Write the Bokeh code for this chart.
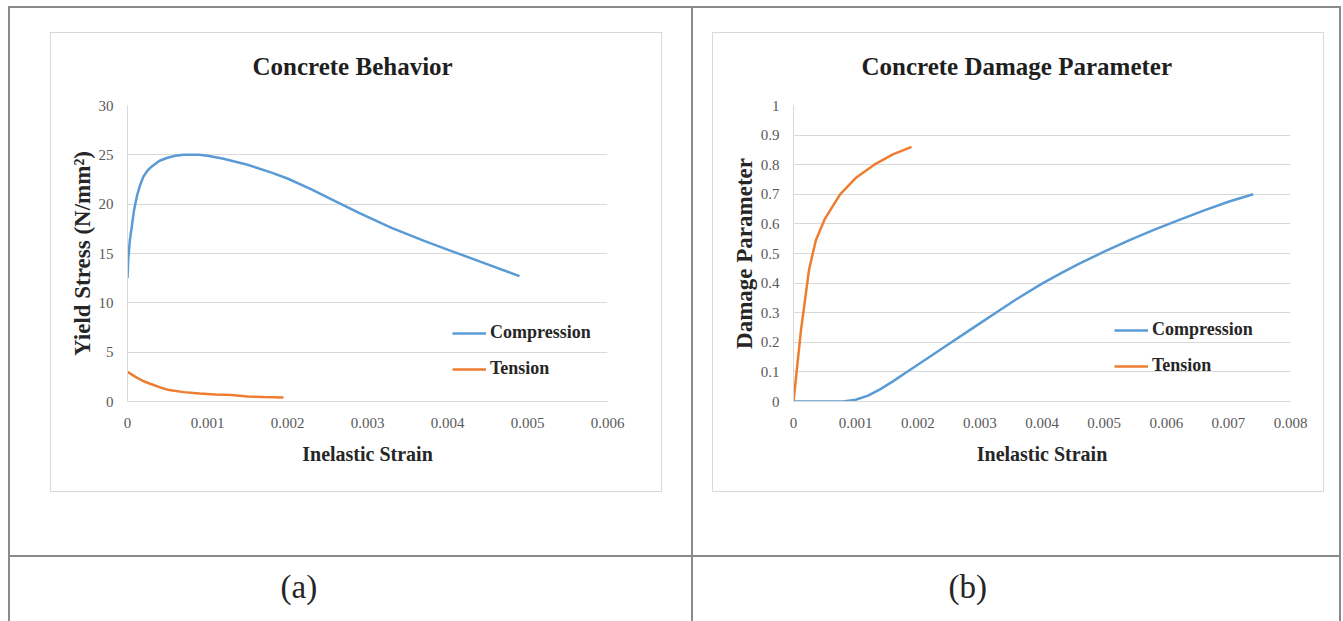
from bokeh.plotting import figure
from bokeh.layouts import row, column
from bokeh.models import Range1d, FixedTicker, Legend, LegendItem, Title
from bokeh.embed import file_html
from bokeh.resources import INLINE

# ---------------- data ----------------
comp_strain_a = [0, 0.00001, 0.00003, 0.00005, 0.00008, 0.00012, 0.00016, 0.0002, 0.00025, 0.0003,
                 0.0004, 0.0005, 0.0006, 0.0007, 0.0008, 0.0009, 0.001, 0.0012, 0.0015, 0.0018,
                 0.002, 0.0023, 0.0025, 0.0029, 0.0033, 0.0037, 0.004, 0.0044, 0.0049]
comp_stress_a = [12.5, 14.5, 16.4, 17.5, 19.3, 20.9, 22.0, 22.8, 23.4, 23.8,
                 24.4, 24.7, 24.9, 25.0, 25.0, 25.0, 24.9, 24.6, 24.0, 23.2,
                 22.6, 21.5, 20.7, 19.1, 17.6, 16.3, 15.4, 14.2, 12.7]
tens_strain_a = [0, 0.0001, 0.0002, 0.0003, 0.0004, 0.0005, 0.0007, 0.0009, 0.0011, 0.0013,
                 0.0015, 0.0017, 0.00195]
tens_stress_a = [3.0, 2.5, 2.05, 1.75, 1.45, 1.2, 0.95, 0.8, 0.72, 0.65, 0.5, 0.45, 0.4]

comp_strain_b = [0, 0.0004, 0.0008, 0.001, 0.0012, 0.0014, 0.0016, 0.0018, 0.002, 0.0022,
                 0.0025, 0.0028, 0.003, 0.0033, 0.0036, 0.004, 0.0043, 0.0046, 0.005, 0.0054,
                 0.0058, 0.0062, 0.0066, 0.007, 0.0074]
comp_damage_b = [0, 0, 0, 0.006, 0.02, 0.042, 0.068, 0.096, 0.124, 0.152,
                 0.194, 0.236, 0.264, 0.306, 0.347, 0.398, 0.433, 0.466, 0.506, 0.544,
                 0.58, 0.613, 0.645, 0.675, 0.70]
tens_strain_b = [0, 0.00012, 0.00025, 0.00036, 0.0005, 0.00075, 0.001, 0.0013, 0.0016, 0.0019]
tens_damage_b = [0, 0.24, 0.445, 0.545, 0.615, 0.70, 0.755, 0.80, 0.835, 0.86]

xa_ticks = [0, 0.001, 0.002, 0.003, 0.004, 0.005, 0.006]
xa_labels = ["0", "0.001", "0.002", "0.003", "0.004", "0.005", "0.006"]
ya_ticks = [0, 5, 10, 15, 20, 25, 30]
ya_labels = ["0", "5", "10", "15", "20", "25", "30"]
xb_ticks = [0, 0.001, 0.002, 0.003, 0.004, 0.005, 0.006, 0.007, 0.008]
xb_labels = ["0", "0.001", "0.002", "0.003", "0.004", "0.005", "0.006", "0.007", "0.008"]
yb_ticks = [0, 0.1, 0.2, 0.3, 0.4, 0.5, 0.6, 0.7, 0.8, 0.9, 1]
yb_labels = ["0", "0.1", "0.2", "0.3", "0.4", "0.5", "0.6", "0.7", "0.8", "0.9", "1"]

title_a = "Concrete  Behavior"
title_b = "Concrete  Damage Parameter"
xlabel = "Inelastic Strain"
ylabel_a = "Yield Stress (N/mm\u00b2)"
ylabel_b = "Damage Parameter"
series_names = ["Compression", "Tension"]
captions = ["(a)", "(b)"]

# ---------------- style ----------------
SERIF = "Liberation Serif"
BLUE = "#5b9bd5"
ORANGE = "#ed7d31"
GRID = "#d9d9d9"
BORDER = "#8a8a8a"
H_TOP = 555
H_CAP = 66


def rects_css(rects):
    parts = []
    for (x, y, w, h, c) in rects:
        parts.append(f"linear-gradient({c},{c}) {x}px {y}px / {w}px {h}px no-repeat")
    return ", ".join(parts)


def make_chart(width, ml, mr, xr, yr, xt, xl, yt, yl, xs_c, ys_c, xs_t, ys_t, ylabel,
               legend_xy, css_rects, title, title_off):
    p = figure(width=width, height=H_TOP, output_backend="svg", toolbar_location=None,
               x_range=Range1d(*xr), y_range=Range1d(*yr),
               min_border_left=ml, min_border_right=mr, min_border_top=105,
               min_border_bottom=H_TOP - 401,
               styles={"background": rects_css(css_rects)})
    p.border_fill_color = None
    p.outline_line_color = None
    p.xgrid.grid_line_color = None
    p.ygrid.grid_line_color = GRID
    p.ygrid.ticker = FixedTicker(ticks=yt)
    for ax, ticks, labels in ((p.xaxis[0], xt, xl), (p.yaxis[0], yt, yl)):
        ax.ticker = FixedTicker(ticks=ticks)
        ax.major_label_overrides = dict(zip(ticks, labels))
        ax.major_tick_line_color = None
        ax.minor_tick_line_color = None
        ax.axis_line_color = GRID
        ax.major_label_text_font = SERIF
        ax.major_label_text_font_size = "15px"
        ax.major_label_text_color = "#595959"
        ax.axis_label_text_font = SERIF
        ax.axis_label_text_font_style = "bold"
        ax.axis_label_text_color = "#262626"
    p.xaxis.major_label_standoff = 10
    p.xaxis.axis_label = xlabel
    p.xaxis.axis_label_text_font_size = "20px"
    p.xaxis.axis_label_standoff = 12
    p.yaxis.major_label_standoff = 8
    p.yaxis.axis_label = ylabel
    p.yaxis.axis_label_text_font_size = "23px"
    p.yaxis.axis_label_standoff = 1

    r1 = p.line(xs_c, ys_c, line_color=BLUE, line_width=2.5)
    r2 = p.line(xs_t, ys_t, line_color=ORANGE, line_width=2.5)
    legend = Legend(items=[LegendItem(label=series_names[0], renderers=[r1]),
                           LegendItem(label=series_names[1], renderers=[r2])],
                    location=legend_xy, padding=0, margin=0, spacing=15,
                    glyph_width=34, glyph_height=20, label_height=20, label_standoff=4,
                    border_line_color=None, background_fill_alpha=0.0,
                    label_text_font=SERIF, label_text_font_style="bold",
                    label_text_font_size="18px", label_text_color="#262626")
    p.add_layout(legend)

    p.add_layout(Title(text=title, align="left", offset=title_off, standoff=52,
                       text_font=SERIF, text_font_style="bold",
                       text_font_size="25px", text_color="#1f1f1f"), "above")
    return p


def make_caption(width, text, off, css_rects):
    c = figure(width=width, height=H_CAP, output_backend="svg", toolbar_location=None,
               x_axis_location=None, y_axis_location=None, min_border=0,
               styles={"background": rects_css(css_rects)})
    c.border_fill_color = None
    c.background_fill_color = None
    c.outline_line_color = None
    c.grid.grid_line_color = None
    c.add_layout(Title(text=text, align="left", offset=off, standoff=22,
                       text_font=SERIF, text_font_style="normal",
                       text_font_size="33px", text_color="#262626"), "above")
    return c


WA, WB = 691, 652
box_a = [(50, 32, 611, 1, GRID), (50, 491, 611, 1, GRID), (50, 32, 1, 460, GRID), (661, 32, 1, 460, GRID)]
lines_a = [(8, 6, 683, 2, BORDER), (8, 6, 2, 549, BORDER)]
box_b = [(21, 32, 611, 1, GRID), (21, 491, 611, 1, GRID), (21, 32, 1, 460, GRID), (632, 32, 1, 460, GRID)]
lines_b = [(0, 6, 650, 2, BORDER), (0, 6, 2, 549, BORDER), (648, 6, 2, 549, BORDER)]
cap_lines_a = [(8, 0, 683, 2, BORDER), (8, 0, 2, H_CAP, BORDER)]
cap_lines_b = [(0, 0, 650, 2, BORDER), (0, 0, 2, H_CAP, BORDER), (648, 0, 2, H_CAP, BORDER)]

pa = make_chart(WA, 127, WA - 607, (0, 0.006), (0, 30), xa_ticks, xa_labels, ya_ticks, ya_labels,
                comp_strain_a, comp_stress_a, tens_strain_a, tens_stress_a, ylabel_a,
                (325, 22), lines_a + box_a, title_a, 125)
pb = make_chart(WB, 102, WB - 599, (0, 0.008), (0, 1), xb_ticks, xb_labels, yb_ticks, yb_labels,
                comp_strain_b, comp_damage_b, tens_strain_b, tens_damage_b, ylabel_b,
                (321, 25), lines_b + box_b, title_b, 68)
ca = make_caption(WA, captions[0], 153, cap_lines_a)
cb = make_caption(WB, captions[1], 155, cap_lines_b)

layout = row(column(pa, ca), column(pb, cb))
open("out.html", "w").write(file_html(layout, INLINE))
